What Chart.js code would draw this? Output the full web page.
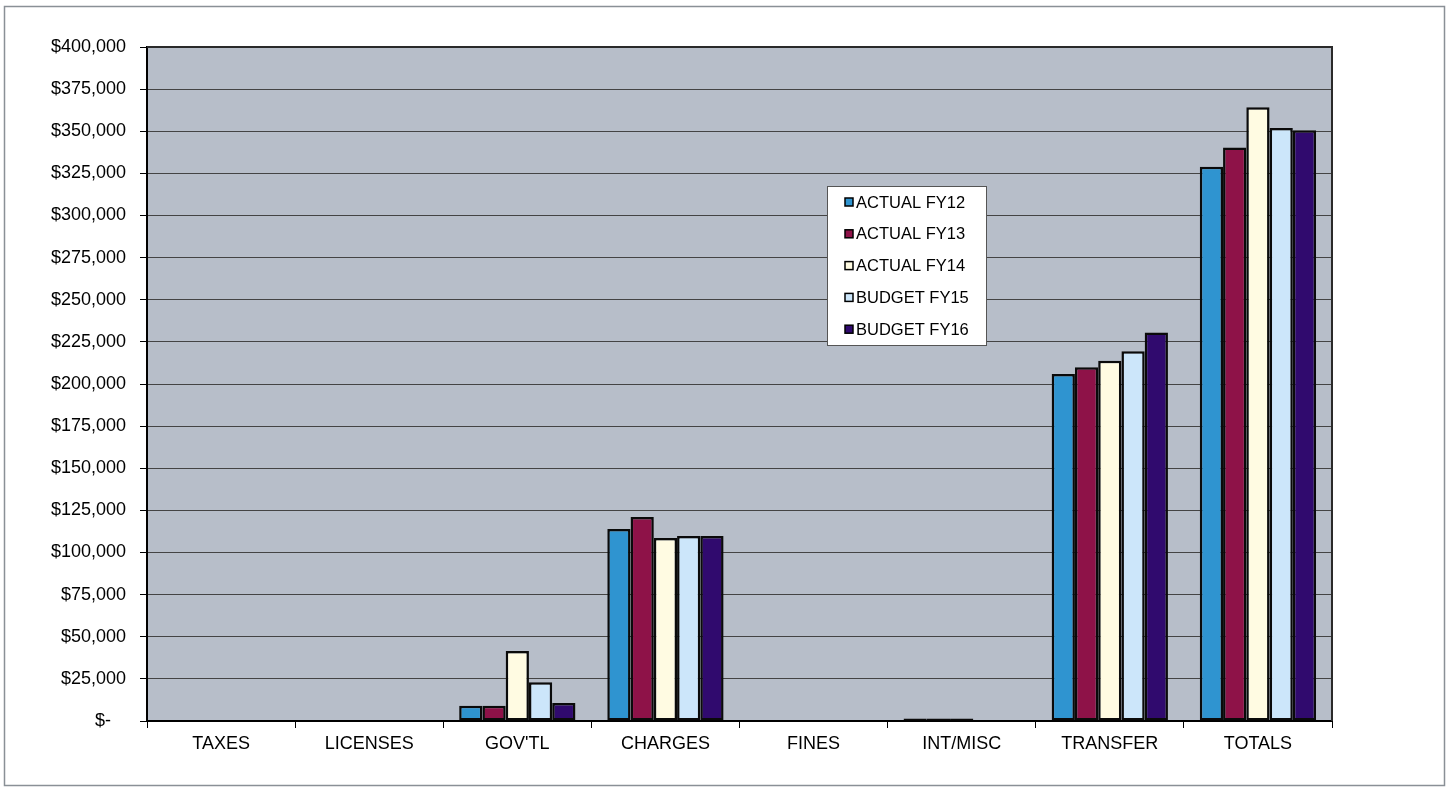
<!DOCTYPE html>
<html>
<head>
<meta charset="utf-8">
<title>Revenue by Source</title>
<script src="https://cdn.jsdelivr.net/npm/chart.js@4/dist/chart.umd.min.js"></script>
<style>
  html, body { margin: 0; padding: 0; background: #ffffff; }
  #wrap { width: 1449px; height: 787px; position: relative; }
</style>
</head>
<body>
<div id="wrap"><canvas id="c" width="1449" height="787"></canvas></div>
<script>
// Revenue categories
const categories = ['TAXES', 'LICENSES', "GOV'TL", 'CHARGES', 'FINES', 'INT/MISC', 'TRANSFER', 'TOTALS'];

// Series values per fiscal year (dollars)
const actualFY12 = [0, 0, 9000, 114000, 0, 1500, 205900, 329000];
const actualFY13 = [0, 0, 9000, 121000, 0, 1500, 209900, 340300];
const actualFY14 = [0, 0, 41500, 108600, 0, 1500, 213800, 364200];
const budgetFY15 = [0, 0, 23000, 109800, 0, 0, 219400, 352000];
const budgetFY16 = [0, 0, 10700, 109800, 0, 0, 230500, 350600];

const seriesNames = ['ACTUAL FY12', 'ACTUAL FY13', 'ACTUAL FY14', 'BUDGET FY15', 'BUDGET FY16'];
const seriesColors = ['#2f94d0', '#8e1248', '#fffbe2', '#cce6fa', '#300a6e'];

// Y axis tick labels
const yTickValues = [0, 25000, 50000, 75000, 100000, 125000, 150000, 175000, 200000,
                     225000, 250000, 275000, 300000, 325000, 350000, 375000, 400000];
const yTickLabels = ['$-   ', '$25,000', '$50,000', '$75,000', '$100,000', '$125,000', '$150,000',
                     '$175,000', '$200,000', '$225,000', '$250,000', '$275,000', '$300,000',
                     '$325,000', '$350,000', '$375,000', '$400,000'];

const seriesValues = [actualFY12, actualFY13, actualFY14, budgetFY15, budgetFY16];

const FONT = '"Liberation Sans", Arial, sans-serif';

// Plot background, plot frame, page frame and the boxed legend
const framePlugin = {
  id: 'frame',
  beforeDraw(chart) {
    const { ctx, chartArea: a } = chart;
    ctx.save();
    ctx.fillStyle = '#b7bec9';
    ctx.fillRect(a.left, a.top, a.right - a.left, a.bottom - a.top);
    ctx.restore();
  },
  beforeDatasetsDraw(chart) {
    const { ctx, chartArea: a } = chart;
    ctx.save();
    ctx.strokeStyle = '#2a2a2a';
    ctx.lineWidth = 2;
    ctx.beginPath();
    ctx.moveTo(a.left, a.top);
    ctx.lineTo(a.right, a.top);
    ctx.lineTo(a.right, a.bottom);
    ctx.stroke();
    ctx.restore();
  },
  afterDraw(chart) {
    const { ctx } = chart;
    ctx.save();
    // outer page frame
    ctx.strokeStyle = '#8a9096';
    ctx.lineWidth = 1.5;
    ctx.strokeRect(4.5, 6.5, 1440, 779);

    // legend box
    const bx = 827, by = 186, bw = 159, bh = 159;
    ctx.fillStyle = '#ffffff';
    ctx.fillRect(bx, by, bw, bh);
    ctx.strokeStyle = '#555555';
    ctx.lineWidth = 1;
    ctx.strokeRect(bx + 0.5, by + 0.5, bw, bh);

    ctx.font = '16.5px ' + FONT;
    ctx.textBaseline = 'middle';
    ctx.textAlign = 'left';
    chart.data.datasets.forEach((ds, i) => {
      const cy = by + 16 + i * 31.8;
      ctx.fillStyle = ds.backgroundColor;
      ctx.fillRect(845, cy - 4, 8, 8);
      ctx.strokeStyle = '#000000';
      ctx.lineWidth = 1.5;
      ctx.strokeRect(845, cy - 4, 8, 8);
      ctx.fillStyle = '#000000';
      ctx.fillText(ds.label, 856, cy + 1);
    });
    ctx.restore();
  }
};

new Chart(document.getElementById('c'), {
  type: 'bar',
  data: {
    labels: categories,
    datasets: seriesNames.map((name, i) => ({
      label: name,
      data: seriesValues[i],
      backgroundColor: seriesColors[i],
      borderColor: '#0a0a0a',
      borderWidth: 2.5,
      borderSkipped: false,
      categoryPercentage: 0.785,
      barPercentage: 1.0
    }))
  },
  options: {
    responsive: false,
    animation: false,
    devicePixelRatio: 1,
    layout: { padding: { top: 47, right: 117, left: 0, bottom: 0 } },
    plugins: {
      legend: { display: false },
      tooltip: { enabled: false }
    },
    scales: {
      x: {
        grid: {
          drawOnChartArea: false,
          offset: true,
          tickLength: 7,
          tickColor: '#000000',
          tickWidth: 1
        },
        border: { display: true, color: '#000000', width: 2 },
        ticks: {
          color: '#000000',
          font: { family: FONT, size: 18 },
          padding: 5,
          maxRotation: 0
        },
        afterFit(scale) { scale.height = 66; }
      },
      y: {
        min: 0,
        max: 400000,
        afterBuildTicks(scale) {
          scale.ticks = yTickValues.map(v => ({ value: v }));
        },
        grid: {
          color: '#444444',
          lineWidth: 1,
          tickLength: 7,
          tickColor: '#000000'
        },
        border: { display: true, color: '#000000', width: 2 },
        ticks: {
          color: '#000000',
          font: { family: FONT, size: 18 },
          padding: 14,
          callback(value) {
            const idx = yTickValues.indexOf(value);
            return idx >= 0 ? yTickLabels[idx] : '';
          }
        },
        afterFit(scale) { scale.width = 147; }
      }
    }
  },
  plugins: [framePlugin]
});
</script>
</body>
</html>
